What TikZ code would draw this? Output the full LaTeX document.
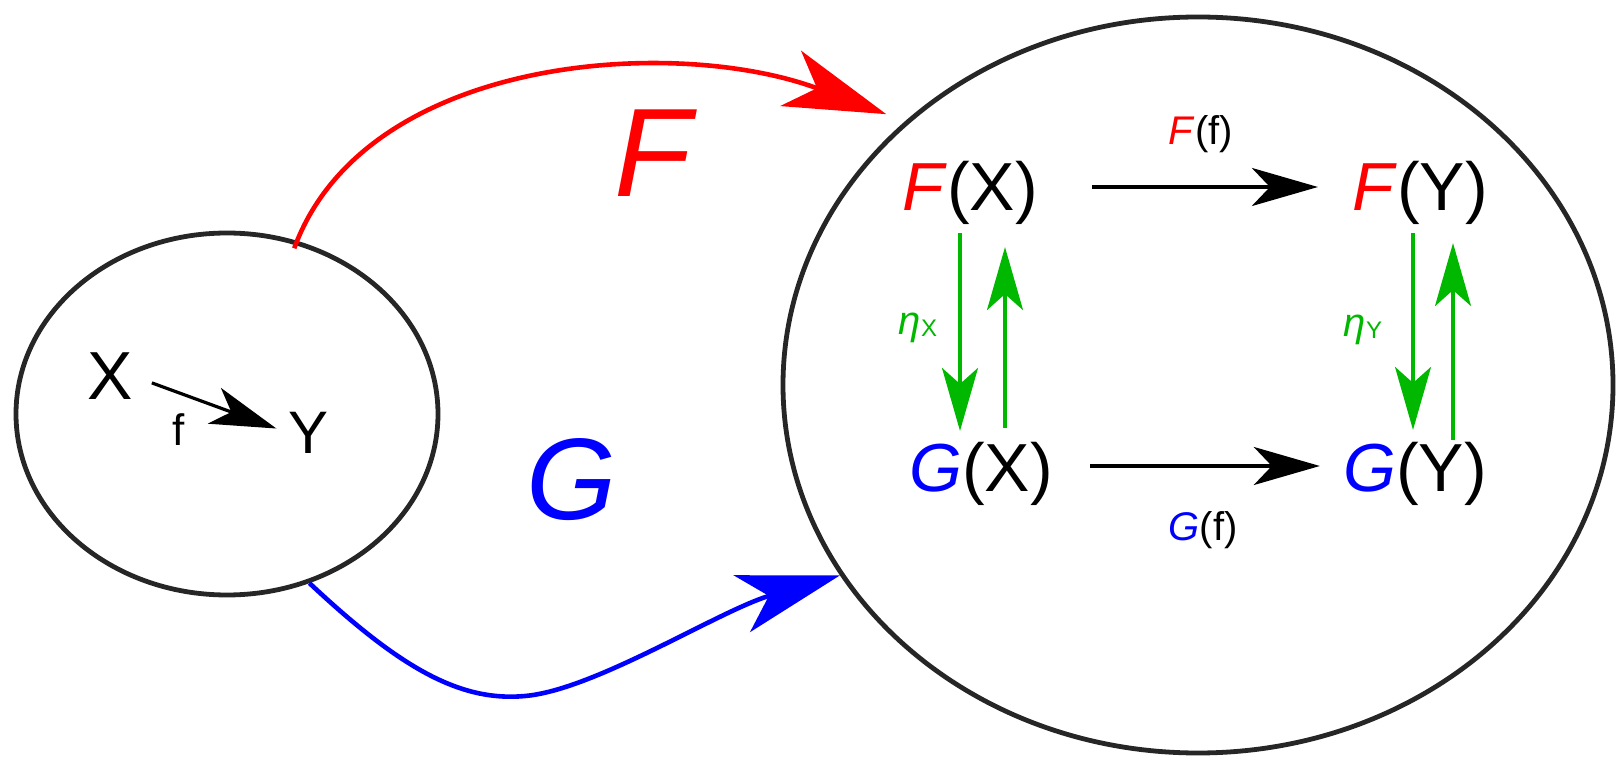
\documentclass[tikz,border=0pt]{standalone}
\usepackage{fontspec}
\setmainfont{Liberation Sans}
\usepackage{xcolor}
\usetikzlibrary{arrows.meta,shapes.geometric}
\definecolor{funcred}{HTML}{FF0000}
\definecolor{funcblue}{HTML}{0000FF}
\definecolor{natgreen}{HTML}{00B800}
\definecolor{catline}{HTML}{262626}
\newcommand{\fsz}[1]{\fontsize{#1}{#1}\selectfont}

\begin{document}
\begin{tikzpicture}[
    x=0.5pt, y=-0.5pt,
    category/.style={ellipse, draw=catline, line width=2.4pt, inner sep=0pt},
    obj/.style={inner sep=0pt, font=\fsz{34}},
    maplbl/.style={inner sep=0pt, font=\fsz{20}},
    bigarrow/.style={line width=2.3pt, -{Stealth[length=51pt, width=29.5pt, inset=14pt]}},
    maparrow/.style={line width=1.9pt, -{Stealth[length=33pt, width=19pt, inset=9pt]}},
    natarrow/.style={natgreen, line width=1.7pt, -{Stealth[length=31.5pt, width=18pt, inset=8pt]}}
]
\useasboundingbox (0,0) rectangle (1616,758);

% the two categories
\node[category, minimum width=211pt, minimum height=181pt] (srccat) at (227,414) {};
\node[category, minimum width=415pt, minimum height=368pt] (tgtcat) at (1198,385) {};

% objects in the source category
\node[obj] (X) at (110,376) {X};
\node[obj, font=\fsz{30}] (Y) at (309,433) {Y};
\node[inner sep=0pt, font=\fsz{22}] (f) at (179,430) {f};
\draw[maparrow, line width=1.6pt, shorten <=10pt, shorten >=6.5pt] (X.east) -- (Y.west);

% the functors
\node[inner sep=0pt, font=\fsz{63}, text=funcred] (bigF) at (656,153) {\textit{F}};
\node[inner sep=0pt, font=\fsz{58}, text=funcblue] (bigG) at (572,480) {\textit{G}};
\draw[funcred, bigarrow, shorten <=-4pt, shorten >=10pt] (srccat.68) .. controls (365,55) and (675,35) .. (tgtcat.138);
\draw[funcblue, bigarrow] (srccat.296) .. controls (400,668) and (460,702) .. (525,696)
    .. controls (595,690) and (720,610) .. (tgtcat.208);

% images in the target category
\node[obj] (FX) at (970,193) {\textcolor{funcred}{\textit{F}}(X)};
\node[obj] (FY) at (1420,193) {\textcolor{funcred}{\textit{F}}(Y)};
\node[obj] (GX) at (981,474) {\textcolor{funcblue}{\textit{G}}(X)};
\node[obj] (GY) at (1415,474) {\textcolor{funcblue}{\textit{G}}(Y)};
\node[maplbl] (Ff) at (1201,134) {\textcolor{funcred}{\textit{F}}(f)};
\node[maplbl] (Gf) at (1203,530) {\textcolor{funcblue}{\textit{G}}(f)};
\node[maplbl, text=natgreen] (etaX) at (918,328) {\textit{η}\raisebox{-1pt}{\fsz{12}X}};
\node[maplbl, text=natgreen] (etaY) at (1363,330) {\textit{η}\raisebox{-1pt}{\fsz{12}Y}};

\draw[maparrow, shorten <=27pt, shorten >=17pt] ([yshift=3pt]FX.east) -- ([yshift=3pt]FX.east -| FY.west);
\draw[maparrow, shorten <=18.5pt, shorten >=11.5pt] ([yshift=4pt]GX.east) -- ([yshift=4pt]GX.east -| GY.west);

% components of the natural transformation
\draw[natarrow, shorten <=4pt, shorten >=5.5pt] ([xshift=-5pt]FX.south) -- ([xshift=-5pt]FX.south |- GX.north);
\draw[natarrow, shorten <=7pt, shorten >=11pt] ([xshift=17.5pt]FX.south |- GX.north) -- ([xshift=17.5pt]FX.south);
\draw[natarrow, shorten <=4pt, shorten >=6pt] ([xshift=-3.5pt]FY.south) -- ([xshift=-3.5pt]FY.south |- GY.north);
\draw[natarrow, shorten <=1pt, shorten >=9pt] ([xshift=16.5pt]FY.south |- GY.north) -- ([xshift=16.5pt]FY.south);
\end{tikzpicture}
\end{document}
